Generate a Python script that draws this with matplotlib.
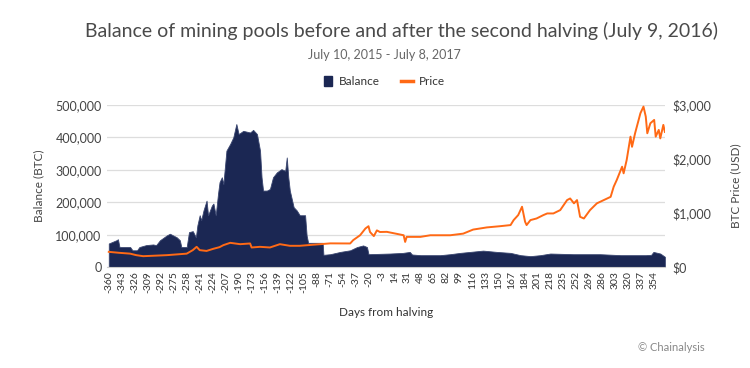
import matplotlib.pyplot as plt
import numpy as np

# balance of mining pools (thousand BTC) at readable turning points
bal_days = [-360, -350, -348, -346, -332, -329, -323, -320, -311, -302, -298, -293, -284,
            -280, -271, -267, -265, -258, -255, -250, -246, -244, -241, -239, -236, -232,
            -230, -225, -223, -220, -217, -215, -212, -210, -206, -201, -197, -193, -190,
            -184, -175, -171, -166, -162, -160, -158, -153, -149, -145, -140, -134, -129,
            -127, -125, -123, -118, -114, -110, -103, -101, -99, -80, -79, -70, -57, -44, -35,
            -27, -22, -20, 8, 25, 34, 37, 48, 74, 87, 100, 113, 130, 148, 166, 179, 192,
            205, 218, 248, 283, 310, 343, 350, 353, 362, 368]
bal_k = [73, 83, 86, 62, 62, 52, 52, 62, 68, 70, 68, 83, 98,
         103, 92, 83, 62, 62, 108, 111, 92, 129, 160, 145, 175, 205,
         160, 190, 196, 160, 226, 262, 277, 256, 359, 380, 400, 441, 410,
         420, 415, 423, 410, 359, 277, 236, 236, 241, 277, 292, 302, 297,
         338, 277, 236, 185, 175, 160, 160, 98, 75, 75, 38, 40, 47, 52, 62,
         67, 62, 40, 42, 44, 47, 39, 37, 37, 40, 44, 47, 51, 47, 44, 37, 34,
         37, 42, 40, 40, 37, 37, 38, 47, 42, 32]

# BTC price (USD)
price_days = [-360, -346, -332, -324, -315, -284, -258, -250, -245, -241, -232, -223, -215,
              -210, -201, -188, -175, -173, -162, -149, -136, -123, -110, -83, -70, -44,
              -40, -31, -24, -20, -18, -13, -9, -5, 4, 17, 26, 28, 30, 48, 61, 87, 104,
              117, 135, 152, 166, 170, 176, 181, 185, 187, 192, 200, 209, 214, 222, 231,
              240, 244, 249, 253, 257, 262, 270, 279, 288, 297, 301, 305, 312, 314, 318,
              323, 325, 329, 336, 340, 343, 345, 349, 354, 356, 360, 362, 366, 368]
price = [283, 265, 250, 222, 203, 222, 250, 315, 376, 315, 300, 340, 370,
         407, 450, 425, 438, 364, 376, 364, 425, 395, 395, 425, 440, 438,
         500, 590, 715, 757, 650, 574, 680, 650, 653, 616, 590, 467, 560, 560, 590, 590, 620,
         695, 735, 757, 778, 870, 963, 1117, 840, 778, 870, 900, 963, 993, 993, 1055,
         1240, 1270, 1180, 1240, 931, 900, 1055, 1180, 1240, 1300, 1487, 1611, 1857, 1735, 1981,
         2413, 2225, 2475, 2846, 2968, 2783, 2475, 2660, 2722, 2413, 2537, 2380, 2630, 2500]

xticks = list(range(-360, 355, 17))

navy = "#1b2753"
orange = "#ff6915"
plt.rcParams['font.family'] = ['Lato', 'DejaVu Sans']

fig = plt.figure(figsize=(7.5, 3.68), dpi=100)
ax = fig.add_axes([0.143, 0.274, 0.744, 0.441])
ax2 = ax.twinx()

ax.fill_between(bal_days, np.array(bal_k) * 1000, 0, color=navy, lw=0.6,
                edgecolor="#3a4670", zorder=2)
ax2.plot(price_days, price, color=orange, lw=1.4, zorder=3)

ax.set_xlim(-362, 368.5)
ax.set_ylim(0, 500000)
ax2.set_ylim(0, 3000)
ax.set_yticks(range(0, 500001, 100000))
ax.set_yticklabels([f"{v:,}" for v in range(0, 500001, 100000)])
ax2.set_yticks([0, 1000, 2000, 3000])
ax2.set_yticklabels(["$0", "$1,000", "$2,000", "$3,000"])
ax.set_xticks(xticks)
ax.set_xticklabels([str(t) for t in xticks], rotation=90, fontsize=7.5, color="#333")

ax.grid(axis="y", color="#dddddd", lw=0.9, zorder=0)
ax.set_axisbelow(True)
for a in (ax, ax2):
    for s in a.spines.values():
        s.set_visible(False)
    a.tick_params(length=0)
ax.spines["bottom"].set_visible(True)
ax.spines["bottom"].set_color("#cccccc")
ax.tick_params(axis="y", labelsize=9, labelcolor="#444", pad=4)
ax.tick_params(axis="x", pad=3)
ax2.tick_params(axis="y", labelsize=9, labelcolor="#444", pad=5)

ax.set_ylabel("Balance (BTC)", fontsize=8.5, color="#444", labelpad=8)
ax2.set_ylabel("BTC Price (USD)", fontsize=8.5, color="#444", labelpad=14)
ax.set_xlabel("Days from halving", fontsize=8.5, color="#333", labelpad=10)

fig.text(0.535, 0.915, "Balance of mining pools before and after the second halving (July 9, 2016)",
         ha="center", va="center", fontsize=14, color="#4a4a4a")
fig.text(0.513, 0.85, "July 10, 2015 - July 8, 2017", ha="center", va="center",
         fontsize=9, color="#666")

# legend
fig.patches.append(plt.Rectangle((0.432, 0.765), 0.011, 0.028, transform=fig.transFigure,
                                 color=navy))
fig.text(0.452, 0.779, "Balance", ha="left", va="center", fontsize=8.5, color="#333")
fig.lines.append(plt.Line2D([0.535, 0.55], [0.779, 0.779], transform=fig.transFigure,
                            color=orange, lw=2.5))
fig.text(0.558, 0.779, "Price", ha="left", va="center", fontsize=8.5, color="#333")

fig.text(0.94, 0.055, "© Chainalysis", ha="right", va="center", fontsize=8, color="#888")

fig.savefig("out.png", dpi=100)
